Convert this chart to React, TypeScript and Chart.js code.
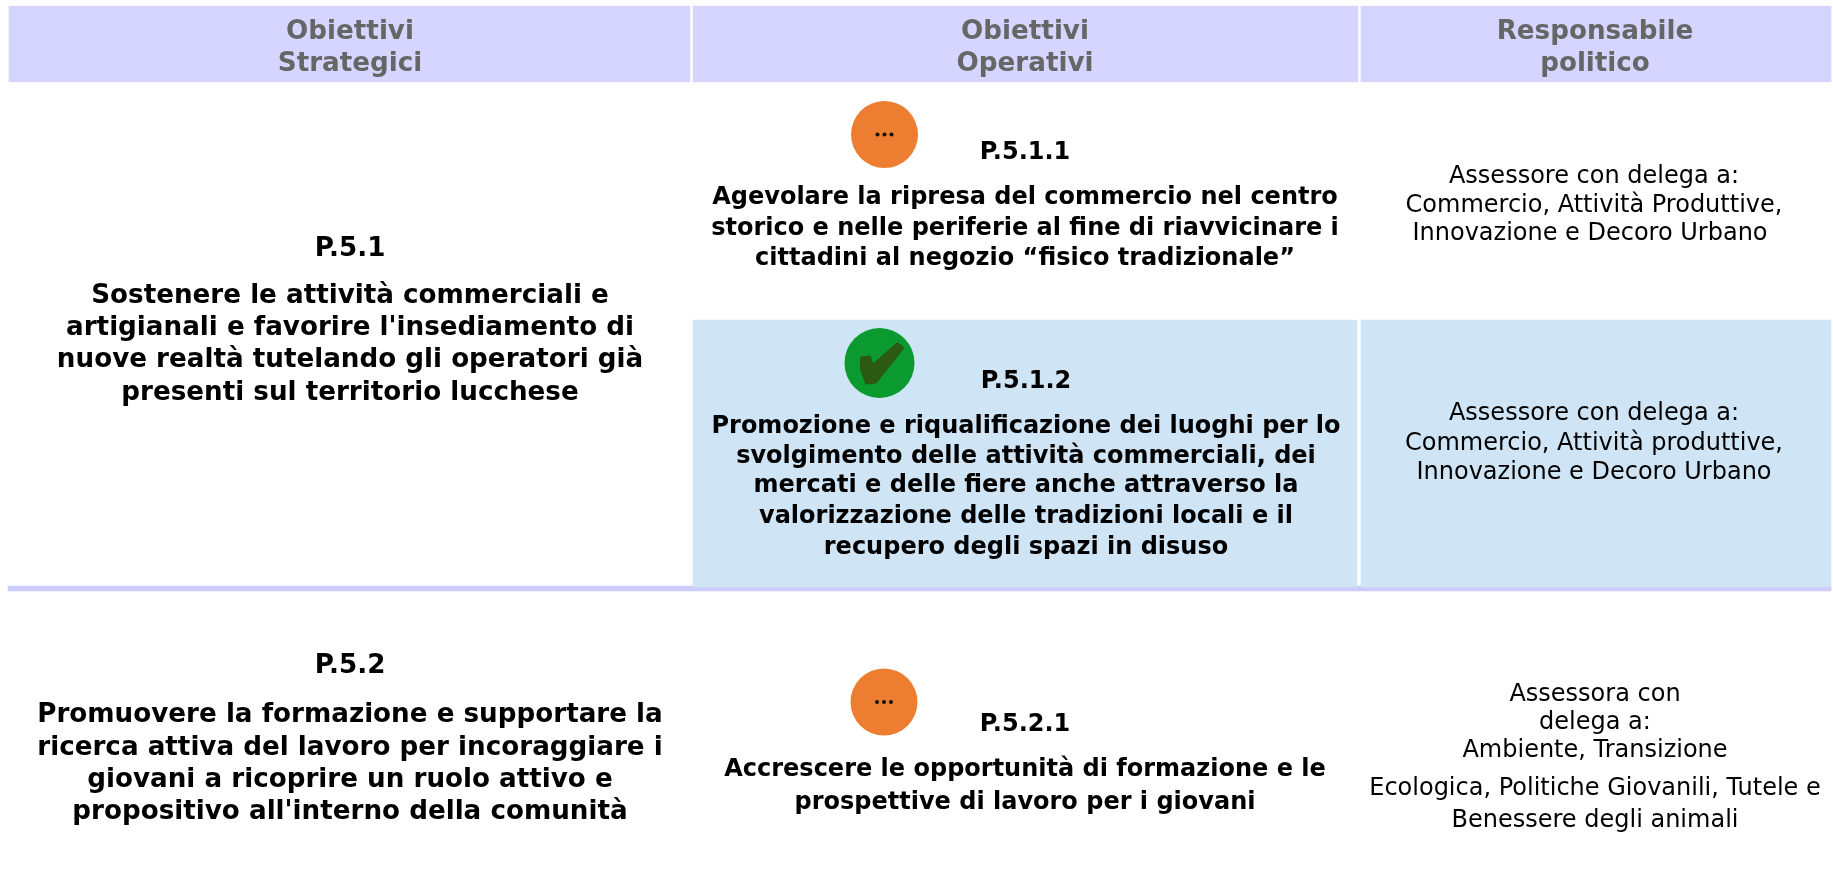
import React, { useEffect, useRef } from "react";
import { Chart, registerables } from "chart.js";

Chart.register(...registerables);

// ---------- content ----------
const headerLabels = [["Obiettivi", "Strategici"], ["Obiettivi", "Operativi"], ["Responsabile", "politico"]];
const strategicCodes = ["P.5.1", "P.5.2"];
const strategicTexts = [
  ["Sostenere le attività commerciali e", "artigianali e favorire l'insediamento di", "nuove realtà tutelando gli operatori già", "presenti sul territorio lucchese"],
  ["Promuovere la formazione e supportare la", "ricerca attiva del lavoro per incoraggiare i", "giovani a ricoprire un ruolo attivo e", "propositivo all'interno della comunità"],
];
const operationalCodes = ["P.5.1.1", "P.5.1.2", "P.5.2.1"];
const operationalTexts = [
  ["Agevolare la ripresa del commercio nel centro", "storico e nelle periferie al fine di riavvicinare i", "cittadini al negozio “fisico tradizionale”"],
  ["Promozione e riqualificazione dei luoghi per lo", "svolgimento delle attività commerciali, dei", "mercati e delle fiere anche attraverso la", "valorizzazione delle tradizioni locali e il", "recupero degli spazi in disuso"],
  ["Accrescere le opportunità di formazione e le", "prospettive di lavoro per i giovani"],
];
const responsibleTexts = [
  ["Assessore con delega a:", "Commercio, Attività Produttive,", "Innovazione e Decoro Urbano"],
  ["Assessore con delega a:", "Commercio, Attività produttive,", "Innovazione e Decoro Urbano"],
  ["Assessora con", "delega a:", "Ambiente, Transizione", "Ecologica, Politiche Giovanili, Tutele e", "Benessere degli animali"],
];
const operationalStatus = ["inProgress", "done", "inProgress"];

// ---------- layout (page pixels) ----------
const W = 1833;
const H = 895;
const cells = [
  { l: 9, r: 690, t: 6, b: 82, c: "#d5d5ff" },
  { l: 693, r: 1358, t: 6, b: 82, c: "#d5d5ff" },
  { l: 1361, r: 1831, t: 6, b: 82, c: "#d5d5ff" },
  { l: 693, r: 1357, t: 320, b: 587, c: "#cfe5f5" },
  { l: 1361, r: 1831, t: 320, b: 587, c: "#cfe5f5" },
  { l: 8, r: 1831, t: 586, b: 591, c: "#ccccff" },
];
const markerSpots = [
  { x: 884.5, y: 134.5, r: 33.5 },
  { x: 879.5, y: 363, r: 35 },
  { x: 884, y: 702, r: 33.5 },
];
const statusColor: Record<string, string> = { inProgress: "#ed7d31", done: "#0b9a2f" };

const BOLD_L = "bold 26.2px 'DejaVu Sans'";
const BOLD_M = "bold 24px 'DejaVu Sans'";
const REG_M = "24px 'DejaVu Sans'";
const textBlocks = [
  { lines: headerLabels[0], x: 350, ys: [32.5, 64.5], font: BOLD_L, color: "#666666" },
  { lines: headerLabels[1], x: 1025, ys: [32.5, 64.5], font: BOLD_L, color: "#666666" },
  { lines: headerLabels[2], x: 1595, ys: [32.5, 64.5], font: BOLD_L, color: "#666666" },
  { lines: [strategicCodes[0]], x: 350, ys: [249.5], font: BOLD_L, color: "#000" },
  { lines: strategicTexts[0], x: 350, ys: [296, 328, 360, 393], font: BOLD_L, color: "#000" },
  { lines: [strategicCodes[1]], x: 350, ys: [666.5], font: BOLD_L, color: "#000" },
  { lines: strategicTexts[1], x: 350, ys: [715.5, 748, 780.5, 812], font: BOLD_L, color: "#000" },
  { lines: [operationalCodes[0]], x: 1025, ys: [153], font: BOLD_M, color: "#000" },
  { lines: operationalTexts[0], x: 1025, ys: [198, 229, 259], font: BOLD_M, color: "#000" },
  { lines: [operationalCodes[1]], x: 1026, ys: [381.5], font: BOLD_M, color: "#000" },
  { lines: operationalTexts[1], x: 1026, ys: [426.5, 456.5, 485.5, 516.5, 548], font: BOLD_M, color: "#000" },
  { lines: [operationalCodes[2]], x: 1025, ys: [725], font: BOLD_M, color: "#000" },
  { lines: operationalTexts[2], x: 1025, ys: [769.5, 802.5], font: BOLD_M, color: "#000" },
  { lines: [responsibleTexts[0][0], responsibleTexts[0][1]], x: 1594, ys: [176.5, 205.5], font: REG_M, color: "#000" },
  { lines: [responsibleTexts[0][2]], x: 1590, ys: [233.5], font: REG_M, color: "#000" },
  { lines: responsibleTexts[1], x: 1594, ys: [413.5, 443.5, 472.5], font: REG_M, color: "#000" },
  { lines: responsibleTexts[2], x: 1595, ys: [694.5, 722.5, 750.5, 789, 821], font: REG_M, color: "#000" },
];
const checkOutline = [[-18, -5], [-10, -6], [-7, 3], [18, -19], [23, -15], [-4, 19], [-13, 20], [-18, 6]];

const tablePlugin = {
  id: "tableText",
  afterDatasetsDraw(chart: any) {
    const { ctx, scales } = chart;
    ctx.save();
    ctx.textAlign = "center";
    ctx.textBaseline = "middle";
    textBlocks.forEach((b) => {
      ctx.font = b.font;
      ctx.fillStyle = b.color;
      b.lines.forEach((line, i) => {
        ctx.fillText(line, scales.x.getPixelForValue(b.x), scales.y.getPixelForValue(b.ys[i]));
      });
    });
    // glyphs inside the status markers
    markerSpots.forEach((m, i) => {
      const cx = scales.x.getPixelForValue(m.x);
      const cy = scales.y.getPixelForValue(m.y);
      if (operationalStatus[i] === "done") {
        ctx.fillStyle = "#2a5a14";
        ctx.strokeStyle = "#2a5a14";
        ctx.lineJoin = "round";
        ctx.lineWidth = 3;
        ctx.beginPath();
        checkOutline.forEach(([dx, dy], k) => (k ? ctx.lineTo(cx + dx, cy + dy) : ctx.moveTo(cx + dx, cy + dy)));
        ctx.closePath();
        ctx.fill();
        ctx.stroke();
      } else {
        ctx.fillStyle = "#111";
        [-7, 0, 7].forEach((dx) => {
          ctx.beginPath();
          ctx.arc(cx + dx, cy, 2, 0, Math.PI * 2);
          ctx.fill();
        });
      }
    });
    ctx.restore();
  },
};

export default function App() {
  const ref = useRef<HTMLCanvasElement>(null);
  useEffect(() => {
    const chart = new Chart(ref.current!, {
      type: "bar",
      data: {
        datasets: [
          ...cells.map((c) => ({
            type: "bar" as const,
            data: [{ x: (c.l + c.r) / 2, y: [c.t, c.b] }],
            barThickness: c.r - c.l,
            backgroundColor: c.c,
            borderWidth: 0,
            grouped: false,
            order: 2,
          })),
          {
            type: "scatter" as const,
            data: markerSpots.map((m) => ({ x: m.x, y: m.y })),
            pointRadius: markerSpots.map((m) => m.r),
            pointBackgroundColor: operationalStatus.map((s) => statusColor[s]),
            pointBorderWidth: 0,
            order: 1,
          },
        ],
      } as any,
      options: {
        animation: false,
        responsive: false,
        layout: { padding: 0, autoPadding: false },
        plugins: { legend: { display: false }, tooltip: { enabled: false }, title: { display: false } },
        scales: {
          x: { type: "linear", min: 0, max: W, display: false, offset: false },
          y: { type: "linear", min: 0, max: H, reverse: true, display: false },
        },
      },
      plugins: [tablePlugin],
    });
    return () => chart.destroy();
  }, []);
  return (
    <div style={{ position: "fixed", left: 0, top: 0, width: W, height: H, background: "#fff" }}>
      <canvas ref={ref} width={W} height={H} style={{ display: "block", width: W, height: H }} />
    </div>
  );
}
